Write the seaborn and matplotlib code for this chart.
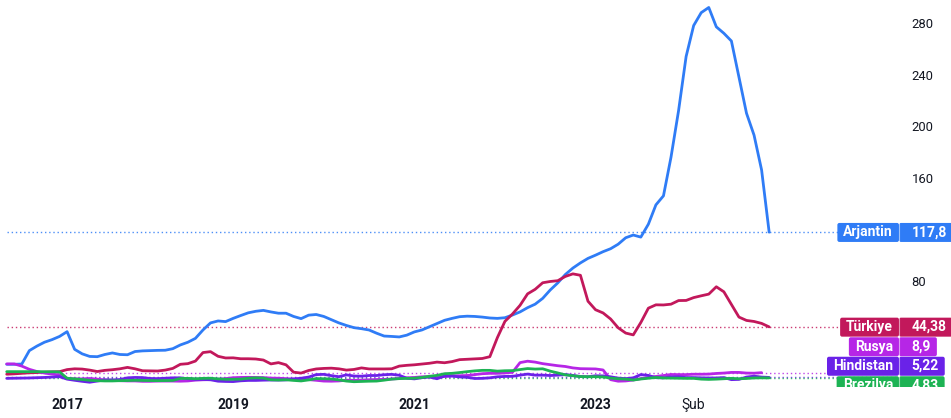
import matplotlib
matplotlib.use("Agg")
import numpy as np
import pandas as pd
import matplotlib.pyplot as plt
import matplotlib.transforms as mtransforms
from matplotlib.patches import FancyBboxPatch
import seaborn as sns

# Monthly bars (the series has a gap between early 2016 and March 2017)
bar_months = ([f"2015-{m:02d}" for m in range(7, 13)] + ["2016-01", "2016-02"]
              + [str(p) for p in pd.period_range("2017-03", "2024-12", freq="M")])

# Annual CPI inflation, %
arjantin = [15.4, 15.4, 15.6, 26.0, 29.5, 32.5, 34.5, 37.0,
            40.7, 27.0, 23.5, 21.5, 21.3, 23.0, 24.2, 23.0, 22.8, 25.3,
            25.8, 26.0, 26.2, 26.3, 27.5, 30.4, 32.5, 35.5, 42.0, 47.5, 49.0, 48.5,
            51.0, 53.2, 55.3, 56.5, 57.2, 56.0, 55.0, 55.0, 52.5, 50.8, 53.5, 54.0,
            52.5, 50.0, 47.5, 45.5, 43.8, 43.0, 42.0, 39.5, 37.3, 37.0, 36.6, 38.0,
            40.5, 42.0, 44.5, 47.0, 49.5, 51.0, 52.3, 52.7, 52.5, 52.0, 51.3, 51.0,
            51.5, 53.6, 56.0, 59.3, 62.0, 66.5, 73.0, 78.5, 85.0, 90.0, 94.0, 97.5,
            100.0, 102.7, 105.0, 108.5, 113.5, 115.6, 114.0, 124.0, 139.0, 146.0, 176.0, 212.0,
            254.0, 278.0, 288.0, 292.0, 277.0, 272.0, 266.0, 238.0, 210.0, 193.0, 166.0, 117.8]
turkiye = [7.7, 8.0, 8.4, 8.8, 9.0, 9.3, 9.5, 9.7,
           11.3, 11.9, 11.7, 10.9, 9.8, 10.7, 11.2, 11.9, 13.0, 11.9,
           10.4, 10.3, 10.2, 10.9, 12.2, 15.4, 15.9, 17.9, 24.5, 25.2, 21.6, 20.3,
           20.4, 19.7, 19.7, 19.5, 18.7, 15.7, 16.7, 15.0, 9.3, 8.6, 10.6, 11.8,
           12.2, 12.4, 11.9, 10.9, 11.4, 12.6, 11.8, 11.8, 11.8, 11.9, 14.0, 14.6,
           15.0, 15.6, 16.2, 17.1, 16.6, 17.5, 19.0, 19.3, 19.6, 19.9, 21.3, 36.1,
           48.7, 54.4, 61.1, 70.0, 73.5, 78.6, 79.6, 80.2, 83.5, 85.5, 84.4, 64.3,
           57.7, 55.2, 50.5, 43.7, 39.6, 38.2, 47.8, 58.9, 61.5, 61.4, 62.0, 64.8,
           64.9, 67.1, 68.5, 69.8, 75.5, 71.6, 61.8, 52.0, 49.4, 48.6, 47.1, 44.38]
rusya = [15.7, 15.7, 14.0, 11.5, 9.8, 8.6, 7.8, 7.1,
         4.3, 4.1, 4.1, 4.4, 3.9, 3.3, 3.0, 2.7, 2.5, 2.5,
         2.2, 2.2, 2.4, 2.4, 2.4, 2.3, 2.5, 3.1, 3.4, 3.5, 3.8, 4.3,
         5.0, 5.2, 5.3, 5.2, 5.1, 4.7, 4.6, 4.3, 4.0, 3.8, 3.5, 3.0,
         2.4, 2.3, 2.5, 3.1, 3.0, 3.2, 3.4, 3.6, 3.7, 4.0, 4.4, 4.9,
         5.2, 5.7, 5.8, 5.5, 6.0, 6.5, 6.5, 6.7, 7.4, 8.1, 8.4, 8.4,
         8.7, 9.2, 16.7, 17.8, 17.1, 15.9, 15.1, 14.3, 13.7, 12.6, 12.0, 11.9,
         11.8, 11.0, 3.5, 2.3, 2.5, 3.2, 4.3, 5.2, 6.0, 6.7, 7.5, 7.4,
         7.4, 7.7, 7.7, 7.8, 8.3, 8.6, 9.1, 9.1, 8.6, 8.5, 8.9, np.nan]
hindistan = [4.5, 4.6, 4.7, 4.8, 5.0, 5.2, 5.5, 5.8,
             3.9, 3.0, 2.2, 1.5, 2.4, 3.3, 3.3, 3.6, 4.9, 5.2,
             5.1, 4.4, 4.3, 4.6, 4.9, 4.9, 4.2, 3.7, 3.7, 3.4, 2.3, 2.1,
             2.0, 2.6, 2.9, 2.9, 3.1, 3.2, 3.2, 3.3, 4.0, 4.6, 5.5, 7.4,
             7.6, 6.6, 5.8, 7.2, 6.3, 6.2, 6.7, 6.7, 7.3, 7.6, 6.9, 4.6,
             4.1, 5.0, 5.5, 4.2, 6.3, 6.3, 5.6, 5.3, 4.4, 4.5, 4.9, 5.7,
             6.0, 6.1, 7.0, 7.8, 7.0, 7.0, 6.7, 7.0, 7.4, 6.8, 5.9, 5.7,
             6.5, 6.4, 5.7, 4.7, 4.3, 4.9, 7.4, 6.8, 5.0, 4.9, 5.6, 5.7,
             5.1, 5.1, 4.9, 4.8, 4.8, 5.1, 3.5, 3.7, 5.5, 6.2, 5.5, 5.22]
brezilya = [9.7, 9.7, 9.7, 9.7, 9.7, 9.6, 9.6, 9.5,
            4.6, 4.1, 3.6, 3.0, 2.7, 2.5, 2.5, 2.7, 2.8, 3.0,
            2.9, 2.8, 2.7, 2.8, 2.9, 4.4, 4.5, 4.2, 4.5, 4.6, 4.1, 3.8,
            3.8, 3.9, 4.6, 4.9, 4.7, 3.4, 3.2, 3.4, 2.9, 2.5, 3.3, 4.3,
            4.2, 4.0, 3.3, 2.4, 1.9, 2.1, 2.3, 2.4, 3.1, 3.9, 4.3, 4.5,
            4.6, 5.2, 6.1, 6.8, 8.1, 8.4, 9.0, 9.7, 10.3, 10.7, 10.7, 10.1,
            10.4, 10.5, 11.3, 12.1, 11.7, 11.9, 10.1, 8.7, 7.2, 6.5, 5.9, 5.8,
            5.8, 5.6, 4.7, 4.2, 3.9, 3.2, 4.0, 4.6, 5.2, 4.8, 4.7, 4.6,
            4.5, 4.5, 3.9, 3.7, 3.9, 4.2, 4.5, 4.2, 4.4, 4.8, 4.9, 4.83]

countries = ["Arjantin", "Türkiye", "Rusya", "Hindistan", "Brezilya"]
series = [arjantin, turkiye, rusya, hindistan, brezilya]
colors = ["#2F7CF6", "#C2185B", "#B626E6", "#6A22E8", "#1DB354"]
year_ticks = ["2017", "2019", "2021", "2023"]
month_tick = ("2024-02", "Şub")
y_ticks = [80, 160, 200, 240, 280]

W, H = 951, 418
PANE_RIGHT, PANE_BOTTOM = 899, 31   # pixels: right edge of the plot pane, bottom offset

sns.set_theme(style="white")
plt.rcParams["font.family"] = ["Roboto", "DejaVu Sans"]

df = pd.concat(
    [pd.DataFrame({"bar": np.arange(len(bar_months)), "country": c, "value": v})
     for c, v in zip(countries, series)],
    ignore_index=True,
).dropna()

fig = plt.figure(figsize=(W / 100, H / 100), dpi=100)
ax = fig.add_axes([0, PANE_BOTTOM / H, PANE_RIGHT / W, (H - PANE_BOTTOM) / H])

sns.lineplot(data=df, x="bar", y="value", hue="country", hue_order=countries,
             palette=dict(zip(countries, colors)), estimator=None, sort=False,
             linewidth=2.0, legend=False, ax=ax)

ax.set_xlim(-0.887, 118.2)
ax.set_ylim(-2.2, 297.8)
for s in ax.spines.values():
    s.set_visible(False)
ax.set_xlabel("")
ax.set_ylabel("")

# last-value guide lines
last_vals = [pd.Series(v).dropna().iloc[-1] for v in series]
for val, col in zip(last_vals, colors):
    ax.hlines(val, 0, 118.2, colors=col, linewidth=1.0, linestyles=(0, (1, 2)),
              alpha=0.85, zorder=1)

# axes ticks
ax.yaxis.tick_right()
ax.set_yticks(y_ticks)
ax.set_yticklabels([str(t) for t in y_ticks])
ax.tick_params(axis="y", length=0, pad=9.0, labelsize=9.4, labelcolor="#131722")
for lbl in ax.get_yticklabels():
    lbl.set_horizontalalignment("left")

tick_pos, tick_txt = [], []
for y in year_ticks:
    tick_pos.append(next(i for i, m in enumerate(bar_months) if m.startswith(y)))
    tick_txt.append(y)
tick_pos.append(bar_months.index(month_tick[0]))
tick_txt.append(month_tick[1])
ax.set_xticks(tick_pos)
ax.set_xticklabels(tick_txt)
ax.tick_params(axis="x", length=0, pad=8, labelsize=10, labelcolor="#131722")
for lbl in ax.get_xticklabels():
    if lbl.get_text() != month_tick[1]:
        lbl.set_fontweight("bold")

# value labels on the price scale, stacked so they do not overlap
fig.canvas.draw()
renderer = fig.canvas.get_renderer()
box_h = 19.5
disp = [ax.transData.transform((0, v))[1] for v in last_vals]
order = sorted(range(len(countries)), key=lambda k: -last_vals[k])
ys = {}
prev = None
for k in order:
    ys[k] = disp[k] if prev is None else min(disp[k], prev - box_h)
    prev = ys[k]
prev = None
for k in reversed(order):
    ys[k] = max(ys[k], PANE_BOTTOM + 1.5) if prev is None else max(ys[k], prev + box_h)
    prev = ys[k]

clip = mtransforms.Bbox([[0, PANE_BOTTOM], [W, H]])
ident = mtransforms.IdentityTransform()
for k in order:
    yc = ys[k]
    col = colors[k]
    name = fig.text(PANE_RIGHT - 6, yc, countries[k], transform=ident, ha="right",
                    va="center", color="white", fontsize=10, fontweight="bold", zorder=11)
    valtxt = f"{last_vals[k]:g}".replace(".", ",")
    val = fig.text(PANE_RIGHT + 12.5, yc, valtxt, transform=ident, ha="left",
                   va="center", color="white", fontsize=10, fontweight="bold", zorder=11)
    nb = name.get_window_extent(renderer)
    vb = val.get_window_extent(renderer)
    x0 = nb.x0 - 6
    x1 = vb.x1 + 6
    for (a, b) in [(x0, PANE_RIGHT), (PANE_RIGHT, x1)]:
        patch = FancyBboxPatch((a, yc - box_h / 2), b - a, box_h - 0.5,
                               boxstyle="round,pad=0,rounding_size=2",
                               transform=ident, facecolor=col, edgecolor="none",
                               zorder=10)
        patch.set_clip_box(clip)
        fig.add_artist(patch)
    div = plt.Line2D([PANE_RIGHT, PANE_RIGHT], [yc - box_h / 2, yc + box_h / 2 - 0.5],
                     transform=ident, color="white", alpha=0.55, linewidth=0.8, zorder=12)
    div.set_clip_box(clip)
    fig.add_artist(div)
    for t in (name, val):
        t.set_clip_box(clip)
        t.set_clip_on(True)

fig.savefig("out.png", dpi=100)
